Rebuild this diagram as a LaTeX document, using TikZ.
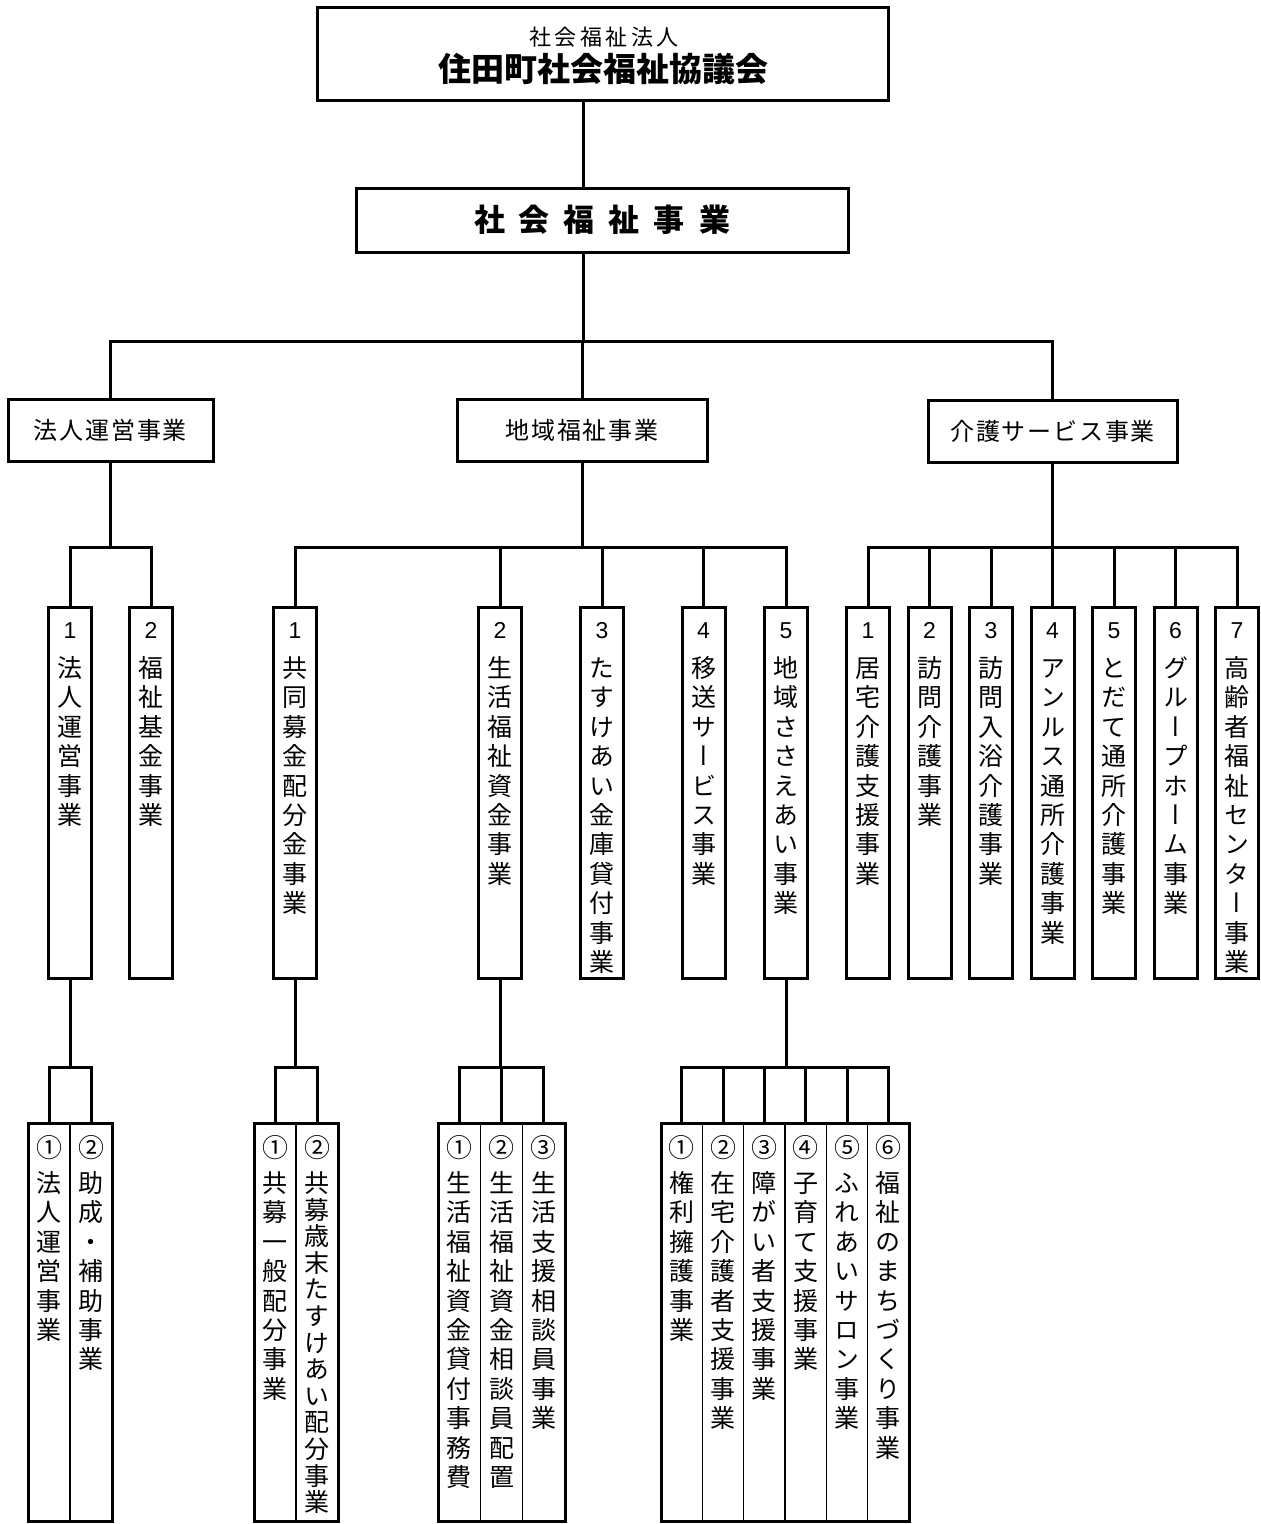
\documentclass[tikz,border=0pt]{standalone}
\usepackage{fontspec}
\newfontfamily\jph{Noto Sans CJK JP}
\newfontfamily\jpv[RawFeature=+vert]{Noto Sans CJK JP}
\newfontfamily\numf{Liberation Sans}
\makeatletter
% vertical stacking of characters (one per line)
\newcommand\mkvert[1]{\mkv@first#1\relax}
\def\mkv@first#1{\def\mkv@acc{\vrule height 0.9em depth 0pt width 0pt #1}\mkv@aux}
\def\mkv@aux#1{\ifx\relax#1\expandafter\mkv@out\else\expandafter\def\expandafter\mkv@acc\expandafter{\mkv@acc\\#1}\expandafter\mkv@aux\fi}
\def\mkv@out{\mkv@acc}
% letter-spaced horizontal text
\newcommand\mkspaced[2]{\def\mks@d{#1}\mks@first#2\relax}
\def\mks@first#1{#1\mks@aux}
\def\mks@aux#1{\ifx\relax#1\else\hspace{\mks@d}#1\expandafter\mks@aux\fi}
\makeatother
\tikzset{
  every node/.style={inner sep=0pt, outer sep=0pt},
  bx/.style={draw, line width=3pt},
  cellbox/.style={draw, line width=1.5pt},
  ln/.style={line width=3pt},
  numlab/.style={anchor=base, font=\numf\fontsize{23}{23}\selectfont},
  cnum/.style={anchor=base, font=\jph\fontsize{26}{26}\selectfont},
  vtxt/.style={anchor=north, align=center, font=\jpv\fontsize{25}{29.4}\selectfont},
  htxt/.style={font=\jph\fontsize{24}{24}\selectfont},
}
% level-4 column: name, x, number, text
\newcommand\colL[4]{%
  \node[bx, minimum width=43, minimum height=371] (#1) at (#2,792.5) {};
  \node[numlab] (#1n) at (#2,638.5) {#3};
  \node[vtxt] (#1t) at (#2,655) {\mkvert{#4}};
}
% level-5 cell: name, x, width, circled number, text, pitch
\newcommand\cellL[6]{%
  \node[cellbox, minimum width=#3, minimum height=398] (#1) at (#2,1322) {};
  \node[cnum] (#1n) at (#2,1157) {#4};
  \node[vtxt, font=\jpv\fontsize{25}{#6}\selectfont] (#1t) at (#2,1170) {\mkvert{#5}};
}
\begin{document}
\begin{tikzpicture}[x=1pt,y=-1pt]
\useasboundingbox (0,0) rectangle (1261,1524);
\fill[white] (0,0) rectangle (1261,1524);

% ---- top levels
\node[bx, minimum width=571, minimum height=93] (org) at (602.5,53.5) {};
\node[font=\jph\fontsize{22}{22}\selectfont] (orgA) at (604,37.5) {\mkspaced{3.5pt}{社会福祉法人}};
\node[font=\jph\bfseries\fontsize{33}{33}\selectfont] (orgB) at (603,69) {住田町社会福祉協議会};

\node[bx, minimum width=492, minimum height=64,
      font=\jph\bfseries\fontsize{31}{31}\selectfont] (sw) at (602,220) {\mkspaced{14pt}{社会福祉事業}};

% ---- level 3
\node[bx, htxt, minimum width=205, minimum height=62] (L1) at (110.5,430) {\mkspaced{1.8pt}{法人運営事業}};
\node[bx, htxt, minimum width=250, minimum height=62] (L2) at (582,430) {\mkspaced{1.8pt}{地域福祉事業}};
\node[bx, htxt, minimum width=249, minimum height=62] (L3) at (1052.5,431) {\mkspaced{1.8pt}{介護サービス事業}};

% ---- level 4
\colL{h1}{70}{1}{法人運営事業}
\colL{h2}{151}{2}{福祉基金事業}
\colL{c1}{295}{1}{共同募金配分金事業}
\colL{c2}{500}{2}{生活福祉資金事業}
\colL{c3}{602}{3}{たすけあい金庫貸付事業}
\colL{c4}{703.5}{4}{移送サービス事業}
\colL{c5}{786}{5}{地域ささえあい事業}
\colL{k1}{868}{1}{居宅介護支援事業}
\colL{k2}{929.5}{2}{訪問介護事業}
\colL{k3}{991}{3}{訪問入浴介護事業}
\colL{k4}{1052.5}{4}{アンルス通所介護事業}
\colL{k5}{1114}{5}{とだて通所介護事業}
\colL{k6}{1175.5}{6}{グループホーム事業}
\colL{k7}{1237}{7}{高齢者福祉センター事業}

% ---- level 5
\cellL{a1}{49}{42}{①}{法人運営事業}{29.4}
\cellL{a2}{91}{42}{②}{助成・補助事業}{29.4}
\node[bx, minimum width=84, minimum height=398] (gA) at (70,1322) {};

\cellL{b1}{275}{42}{①}{共募一般配分事業}{29.4}
\cellL{b2}{317}{42}{②}{共募歳末たすけあい配分事業}{26.6}
\node[bx, minimum width=84, minimum height=398] (gB) at (296,1322) {};

\cellL{s1}{459.2}{42.33}{①}{生活福祉資金貸付事務費}{29.4}
\cellL{s2}{501.5}{42.33}{②}{生活福祉資金相談員配置}{29.4}
\cellL{s3}{543.8}{42.33}{③}{生活支援相談員事業}{29.4}
\node[bx, minimum width=127, minimum height=398] (gC) at (501.5,1322) {};

\cellL{t1}{681.7}{41.33}{①}{権利擁護事業}{29.4}
\cellL{t2}{723}{41.33}{②}{在宅介護者支援事業}{29.4}
\cellL{t3}{764.3}{41.33}{③}{障がい者支援事業}{29.4}
\cellL{t4}{805.7}{41.33}{④}{子育て支援事業}{29.4}
\cellL{t5}{847}{41.33}{⑤}{ふれあいサロン事業}{29.4}
\cellL{t6}{888.3}{41.33}{⑥}{福祉のまちづくり事業}{29.4}
\node[bx, minimum width=248, minimum height=398] (gD) at (785,1322) {};

% ---- connectors
\coordinate (mx) at (583,0);
\coordinate (y1) at (0,341);
\coordinate (y2) at (0,547);
\coordinate (y3) at (0,1067);

\draw[ln] (org.south -| mx) -- (sw.north -| mx);
\draw[ln] (sw.south -| mx) -- (mx |- y1);
\draw[ln] (L1.north) -- (L1.north |- y1) -- (L3.north |- y1) -- (L3.north);
\draw[ln] (L2.north) -- (L2.north |- y1);

\draw[ln] (L1.south) -- (L1.south |- y2);
\draw[ln] (h1.north) -- (h1.north |- y2) -- (h2.north |- y2) -- (h2.north);
\draw[ln] (L2.south) -- (L2.south |- y2);
\draw[ln] (c1.north) -- (c1.north |- y2) -- (c5.north |- y2) -- (c5.north);
\foreach \n in {c2,c3,c4} \draw[ln] (\n.north) -- (\n.north |- y2);
\draw[ln] (L3.south) -- (L3.south |- y2);
\draw[ln] (k1.north) -- (k1.north |- y2) -- (k7.north |- y2) -- (k7.north);
\foreach \n in {k2,k3,k4,k5,k6} \draw[ln] (\n.north) -- (\n.north |- y2);

\draw[ln] (h1.south) -- (h1.south |- y3);
\draw[ln] (a1.north) -- (a1.north |- y3) -- (a2.north |- y3) -- (a2.north);
\draw[ln] (c1.south) -- (c1.south |- y3);
\draw[ln] (b1.north) -- (b1.north |- y3) -- (b2.north |- y3) -- (b2.north);
\draw[ln] (c2.south) -- (c2.south |- y3);
\draw[ln] (s1.north) -- (s1.north |- y3) -- (s3.north |- y3) -- (s3.north);
\draw[ln] (s2.north) -- (s2.north |- y3);
\draw[ln] (c5.south) -- (c5.south |- y3);
\draw[ln] (t1.north) -- (t1.north |- y3) -- (t6.north |- y3) -- (t6.north);
\foreach \n in {t2,t3,t4,t5} \draw[ln] (\n.north) -- (\n.north |- y3);
\end{tikzpicture}
\end{document}
